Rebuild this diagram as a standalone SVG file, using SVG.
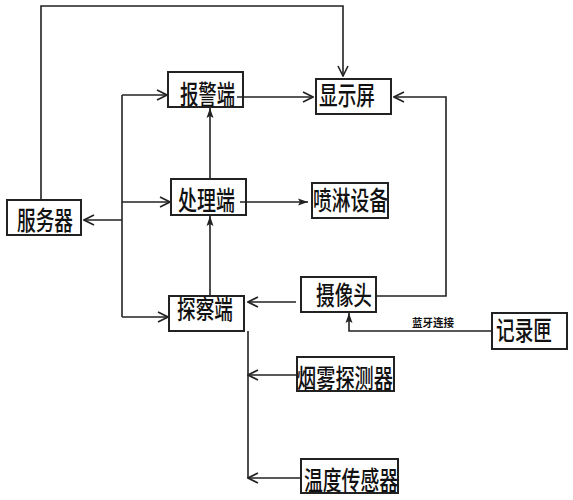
<svg xmlns="http://www.w3.org/2000/svg" width="573" height="500" viewBox="0 0 573 500">
<style>
.box{fill:none;stroke:#222;stroke-width:2}
.t{font-family:"Noto Sans CJK SC","Noto Sans CJK JP",sans-serif;font-size:26px;font-weight:500;fill:#111}
.ln{fill:none;stroke:#222;stroke-width:1.6}
.lab{font-family:"Noto Sans CJK SC",sans-serif;font-size:11px;font-weight:bold;fill:#111}
</style>
<defs>
<marker id="open" viewBox="0 0 12 12" refX="11" refY="6" markerWidth="12" markerHeight="12" markerUnits="userSpaceOnUse" orient="auto">
<path d="M1,1 L11,6 L1,11" fill="none" stroke="#222" stroke-width="1.6"/>
</marker>
<marker id="fill" viewBox="0 0 10 8" refX="10" refY="4" markerWidth="10" markerHeight="8" markerUnits="userSpaceOnUse" orient="auto">
<path d="M0,0.5 L10,4 L0,7.5 L2,4 Z" fill="#222"/>
</marker>
</defs>
<rect width="573" height="500" fill="#fff"/>
<g id="connectors">
<polyline class="ln" points="41,200 41,6 343,6 343,76" marker-end="url(#open)"/>
<polyline class="ln" points="122,220 84,220" marker-end="url(#open)"/>
<polyline class="ln" points="122,95 122,317"/>
<polyline class="ln" points="122,95 167,95" marker-end="url(#open)"/>
<polyline class="ln" points="122,202 170,202" marker-end="url(#open)"/>
<polyline class="ln" points="122,317 168,317" marker-end="url(#open)"/>
<polyline class="ln" points="237,97 313,97" marker-end="url(#open)"/>
<polyline class="ln" points="240,202 308,202" marker-end="url(#fill)"/>
<polyline class="ln" points="210,179 210,108" marker-end="url(#fill)"/>
<polyline class="ln" points="210,296 210,216" marker-end="url(#fill)"/>
<polyline class="ln" points="376,296 446,296 446,97 394,97" marker-end="url(#open)"/>
<polyline class="ln" points="296,302 248,302" marker-end="url(#open)"/>
<polyline class="ln" points="492,331 349,331 349,313" marker-end="url(#fill)"/>
<polyline class="ln" points="248,331 248,478"/>
<polyline class="ln" points="297,375 248,375" marker-end="url(#open)"/>
<polyline class="ln" points="301,478 248,478" marker-end="url(#open)"/>
<text class="lab" x="433" y="327" text-anchor="middle" textLength="42" lengthAdjust="spacingAndGlyphs">蓝牙连接</text>
</g>
<g id="server"><rect class="box" x="7" y="200" width="74" height="35"/><text class="t" x="17" y="230" textLength="56" lengthAdjust="spacingAndGlyphs">服务器</text></g>
<g id="alarm"><rect class="box" x="168" y="72" width="75" height="35"/><text class="t" x="180" y="104" textLength="55" lengthAdjust="spacingAndGlyphs">报警端</text></g>
<g id="process"><rect class="box" x="171" y="179" width="75" height="36"/><text class="t" x="178" y="210" textLength="57" lengthAdjust="spacingAndGlyphs">处理端</text></g>
<g id="display"><rect class="box" x="316" y="79" width="75" height="35"/><text class="t" x="319" y="105" textLength="56" lengthAdjust="spacingAndGlyphs">显示屏</text></g>
<g id="sprinkler"><rect class="box" x="312" y="183" width="76" height="35"/><text class="t" x="313" y="210" textLength="75" lengthAdjust="spacingAndGlyphs">喷淋设备</text></g>
<g id="detect"><rect class="box" x="169" y="296" width="75" height="35"/><text class="t" x="177" y="319" textLength="56" lengthAdjust="spacingAndGlyphs">探察端</text></g>
<g id="camera"><rect class="box" x="301" y="277" width="75" height="35"/><text class="t" x="316" y="305" textLength="56" lengthAdjust="spacingAndGlyphs">摄像头</text></g>
<g id="recorder"><rect class="box" x="492" y="313" width="75" height="36"/><text class="t" x="496" y="340" textLength="56" lengthAdjust="spacingAndGlyphs">记录匣</text></g>
<g id="smoke"><rect class="box" x="297" y="357" width="97" height="34"/><text class="t" x="297" y="388" textLength="96" lengthAdjust="spacingAndGlyphs">烟雾探测器</text></g>
<g id="temp"><rect class="box" x="301" y="459" width="97" height="34"/><text class="t" x="304" y="490" textLength="94" lengthAdjust="spacingAndGlyphs">温度传感器</text></g>
</svg>
